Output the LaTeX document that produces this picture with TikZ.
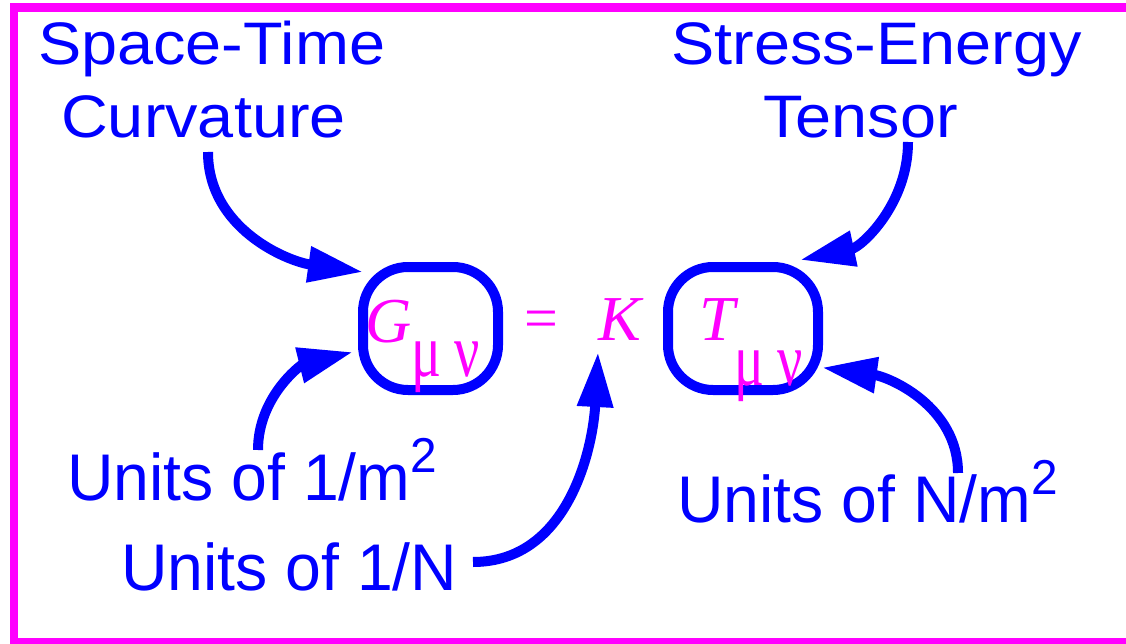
\documentclass[tikz,border=0pt]{standalone}
\usepackage{fontspec}
\usepackage{graphicx}
\setmainfont{Liberation Sans}
\newfontfamily\topfont{Liberation Sans}[FakeStretch=1.08]
\newfontfamily\botfont{Liberation Sans}[FakeStretch=0.975]
\newfontfamily\eqfont{Liberation Serif}
\usetikzlibrary{arrows.meta,calc}

\definecolor{pureblue}{RGB}{0,0,255}
\definecolor{puremagenta}{RGB}{255,0,255}

\tikzset{
  toplabel/.style={text=pureblue, font={\topfont\fontsize{60}{66}\selectfont}, anchor=base west, inner sep=0pt},
  botlabel/.style={text=pureblue, font={\botfont\fontsize{66}{70}\selectfont}, anchor=base west, inner sep=0pt},
  eqsym/.style={text=puremagenta, font={\eqfont\fontsize{64}{70}\selectfont\itshape}, anchor=base west, inner sep=0pt},
  eqsub/.style={text=puremagenta, font={\eqfont\fontsize{56}{60}\selectfont}, anchor=base west, inner sep=0pt},
  eqbox/.style={draw=pureblue, line width=10pt, rounded corners=45pt, minimum height=123pt, inner sep=0pt},
  pointer/.style={draw=pureblue, line width=10pt, -{Triangle[length=55pt,width=34pt]}},
}

\newcommand{\sqpow}{\raisebox{28pt}{\fontsize{49}{50}\selectfont 2}}
\newcommand{\munu}{\scalebox{1}[1.35]{μ\hspace{13pt}ν}}

\begin{document}
\begin{tikzpicture}[x=1pt,y=1pt]
  \useasboundingbox (0,0) rectangle (1126,-644);
  \clip (0,0) rectangle (1126,-644);
  % frame (open on the right)
  \draw[puremagenta, line width=8.5pt, line join=miter] (1126,-7.5) -- (14,-7.5) -- (14,-644);
  \draw[puremagenta, line width=6pt] (10,-641) -- (1126,-641);

  % top labels
  \node[toplabel] (space) at (38,-65) {Space-Time};
  \node[toplabel] (curv) at (61,-138) {Curvature};
  \node[toplabel] (stress) at (671,-65) {Stress-Energy};
  \node[toplabel] (tensor) at (763,-138) {Tensor};

  % equation
  \node[eqbox, minimum width=135pt] (gbox) at (430.5,-328.5) {};
  \node[eqbox, minimum width=150pt] (tbox) at (743,-328.5) {};
  \node[eqsym] (gsym) at (365,-342) {G};
  \node[eqsub] (gsub) at (411,-376) {\munu};
  \node[text=puremagenta, font={\eqfont\fontsize{60}{60}\selectfont}, inner sep=0pt] (equal) at (541.5,-324.5) {=};
  \node[eqsym] (ksym) at (598,-340) {K};
  \node[eqsym] (tsym) at (699,-340) {T};
  \node[eqsub] (tsub) at (734,-385) {\munu};

  % bottom labels
  \node[botlabel] (unitsa) at (67,-500) {Units of 1/m\sqpow};
  \node[botlabel] (unitsb) at (677,-522) {Units of N/m\sqpow};
  \node[botlabel] (unitsc) at (121,-590) {Units of 1/N};

  % arrows
  \coordinate (c1) at (208,-152);
  \coordinate (c2) at (908,-142);
  \coordinate (c3) at (258,-450);
  \coordinate (c4) at (958,-473);
  \coordinate (c5) at (473,-562);
  \draw[pointer] (c1) to[out=-90,in=172] ($(gbox.north west)+(5,-10)$);
  \draw[pointer] (c2) to[out=-90,in=12] ($(tbox.north east)+(-23,2)$);
  \draw[pointer] (c3) to[out=90,in=194] ($(gbox.west)+(-5,-23.5)$);
  \draw[pointer] (c4) to[out=90,in=-8] ($(tbox.east)+(-1,-39)$);
  \draw[pointer] (c5) to[out=0,in=-93] ($(ksym.base west)+(0,-12)$);
\end{tikzpicture}
\end{document}
